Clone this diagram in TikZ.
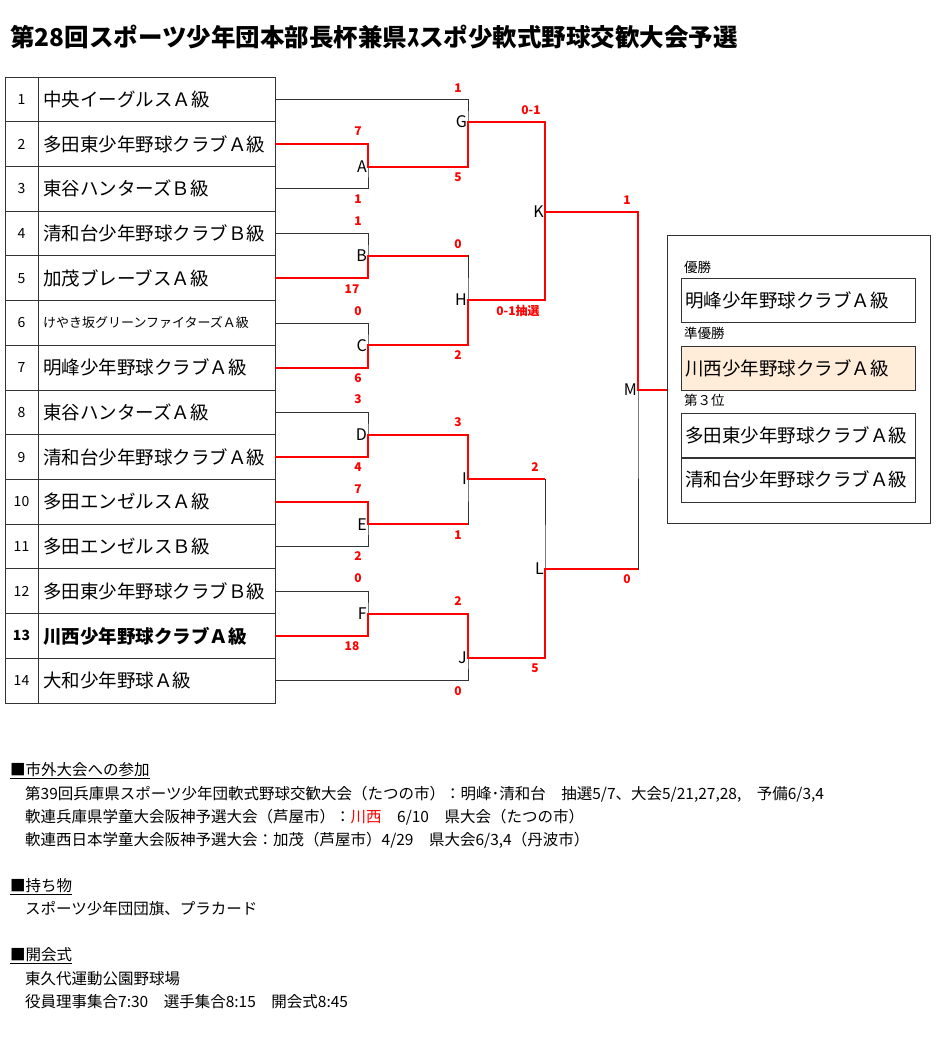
\documentclass[tikz,border=0pt]{standalone}
\usepackage{fontspec}
\setmainfont{Noto Sans CJK JP}
\usetikzlibrary{positioning, calc}
\tikzstyle{bLine}=[draw=black!80, line width=0.8pt]
\tikzstyle{rLine}=[draw=red, line width=2pt]
\tikzstyle{score}=[text=red, font=\bfseries\fontsize{12}{12}\selectfont, inner sep=1pt]
\tikzstyle{matchLbl}=[anchor=east, font=\fontsize{16}{16}\selectfont, inner sep=1pt]
\tikzstyle{teamLbl}=[anchor=west, font=\fontsize{18.5}{18.5}\selectfont, inner sep=0pt]
\tikzstyle{noteLbl}=[anchor=west, font=\fontsize{15.5}{15.5}\selectfont, inner sep=0pt]
\tikzstyle{rankBox}=[draw=black!80, minimum width=234pt, minimum height=44pt, anchor=north west, font=\fontsize{18.5}{18.5}\selectfont, text width=226pt, inner sep=4pt]

\begin{document}
\begin{tikzpicture}[x=1pt, y=-1pt]
    \useasboundingbox (0,0) rectangle (935,1039);
    \node[anchor=west, font=\bfseries\fontsize{24.5}{24.5}\selectfont, inner sep=0pt] (title) at (10,37) {第28回スポーツ少年団本部長杯兼県ｽスポ少軟式野球交歓大会予選};

    % Team table
    \draw[bLine] (5,77) rectangle (275,703);
    \draw[bLine] (38,77) -- (38,703);
    \foreach \t [count=\i] in {中央イーグルスＡ級, 多田東少年野球クラブＡ級, 東谷ハンターズＢ級,
        清和台少年野球クラブＢ級, 加茂ブレーブスＡ級, {}, 明峰少年野球クラブＡ級,
        東谷ハンターズＡ級, 清和台少年野球クラブＡ級, 多田エンゼルスＡ級, 多田エンゼルスＢ級,
        多田東少年野球クラブＢ級, {}, 大和少年野球Ａ級} {
        \pgfmathsetmacro\yc{77+44.71*(\i-0.5)}
        \ifnum\i<14 \draw[bLine] (5,{77+44.71*\i}) -- (275,{77+44.71*\i}); \fi
        \node[font=\fontsize{14}{14}\selectfont] (n\i) at (21.5,\yc) {\i};
        \node[teamLbl] (t\i) at (43,\yc) {\t};
        \coordinate (r\i) at (275,\yc);
    }
    \node[teamLbl, font=\fontsize{13}{13}\selectfont] (t6x) at (43,{77+44.71*5.5}) {けやき坂グリーンファイターズＡ級};
    \node[teamLbl, font=\bfseries\fontsize{18.5}{18.5}\selectfont] (t13x) at (43,{77+44.71*12.5}) {川西少年野球クラブＡ級};
    \node[font=\bfseries\fontsize{14}{14}\selectfont, fill=white, inner sep=1pt] (n13x) at (21.5,{77+44.71*12.5}) {13};

    % Match points
    \coordinate (A) at (368,166.5);
    \coordinate (B) at (368,255.8);
    \coordinate (C) at (368,345.3);
    \coordinate (D) at (368,434.7);
    \coordinate (E) at (368,524.2);
    \coordinate (F) at (368,613.6);
    \coordinate (G) at (468,122);
    \coordinate (H) at (468,300);
    \coordinate (I) at (468,479);
    \coordinate (J) at (468,658);
    \coordinate (K) at (545,211.5);
    \coordinate (L) at (545,569);
    \coordinate (M) at (638,390);
    \coordinate (win) at (667,390);

    % Black brackets
    \draw[bLine] (r2) -| (A) |- (r3);
    \draw[bLine] (r4) -| (B) |- (r5);
    \draw[bLine] (r6) -| (C) |- (r7);
    \draw[bLine] (r8) -| (D) |- (r9);
    \draw[bLine] (r10) -| (E) |- (r11);
    \draw[bLine] (r12) -| (F) |- (r13);
    \draw[bLine] (r1) -| (G) |- (A);
    \draw[bLine] (B) -| (H) |- (C);
    \draw[bLine] (D) -| (I) |- (E);
    \draw[bLine] (F) -| (J) |- (r14);
    \draw[bLine] (G) -| (K) |- (H);
    \draw[bLine] (I) -| (L) |- (J);
    \draw[bLine] (K) -| (M) |- (L);

    % Winning paths
    \draw[rLine] (r2) -| (A) -- (A-|G) -- (G) -- (G-|K) -- (K) -- (K-|M) -- (M) -- (win);
    \draw[rLine] (r5) -| (B) -- (B-|H);
    \draw[rLine] (r7) -| (C) -- (C-|H) -- (H) -- (H-|K) -- (K);
    \draw[rLine] (r9) -| (D) -- (D-|I) -- (I) -- (I-|L);
    \draw[rLine] (r10) -| (E) -- (E-|I);
    \draw[rLine] (r13) -| (F) -- (F-|J) -- (J) -- (J-|L) -- (L) -- (L-|M);

    % Match letters
    \foreach \m in {A,B,C,D,E,F,G,H,I,J,K,L,M}
        \node[matchLbl] (lbl\m) at (\m) {\m};

    % Scores
    \node[score] (s1) at (458,88) {1};
    \node[score] (s2) at (358,131) {7};
    \node[score] (s3) at (358,199) {1};
    \node[score] (s4) at (358,221) {1};
    \node[score] (s5) at (352,289) {17};
    \node[score] (s6) at (358,311) {0};
    \node[score] (s7) at (358,378) {6};
    \node[score] (s8) at (358,399) {3};
    \node[score] (s9) at (358,467) {4};
    \node[score] (s10) at (358,489) {7};
    \node[score] (s11) at (358,556) {2};
    \node[score] (s12) at (358,578) {0};
    \node[score] (s13) at (352,646) {18};
    \node[score] (sG) at (458,177) {5};
    \node[score] (sH1) at (458,244) {0};
    \node[score] (sH2) at (458,355) {2};
    \node[score] (sI1) at (458,422) {3};
    \node[score] (sI2) at (458,535) {1};
    \node[score] (sJ1) at (458,601) {2};
    \node[score] (sJ2) at (458,691) {0};
    \node[score] (sK1) at (531,110) {0-1};
    \node[score] (sK2) at (518,311) {0-1抽選};
    \node[score] (sL1) at (535,467) {2};
    \node[score] (sL2) at (535,668) {5};
    \node[score] (sM1) at (627,200) {1};
    \node[score] (sM2) at (627,579) {0};

    % Result box
    \draw[bLine] (667,235) rectangle (930,523);
    \node[noteLbl, font=\fontsize{13.5}{13.5}\selectfont] (first) at (684,267) {優勝};
    \node[rankBox] (w1) at (681,278) {明峰少年野球クラブＡ級};
    \node[noteLbl, font=\fontsize{13.5}{13.5}\selectfont] (second) at (684,333) {準優勝};
    \node[rankBox, fill=orange!15] (w2) at (681,346) {川西少年野球クラブＡ級};
    \node[noteLbl, font=\fontsize{13.5}{13.5}\selectfont] (third) at (684,400) {第３位};
    \node[rankBox] (w3) at (681,413) {多田東少年野球クラブＡ級};
    \node[rankBox] (w4) at (681,457.5) {清和台少年野球クラブＡ級};

    % Notes
    \node[noteLbl] (h1) at (10,771) {\underline{■市外大会への参加}};
    \node[noteLbl] (l1) at (25,794) {第39回兵庫県スポーツ少年団軟式野球交歓大会（たつの市）：明峰･清和台　抽選5/7、大会5/21,27,28,　予備6/3,4};
    \node[noteLbl] (l2) at (25,817) {軟連兵庫県学童大会阪神予選大会（芦屋市）：\textcolor{red}{川西}　6/10　県大会（たつの市）};
    \node[noteLbl] (l3) at (25,840) {軟連西日本学童大会阪神予選大会：加茂（芦屋市）4/29　県大会6/3,4（丹波市）};
    \node[noteLbl] (h2) at (10,887) {\underline{■持ち物}};
    \node[noteLbl] (l4) at (25,909) {スポーツ少年団団旗、プラカード};
    \node[noteLbl] (h3) at (10,956) {\underline{■開会式}};
    \node[noteLbl] (l5) at (25,979) {東久代運動公園野球場};
    \node[noteLbl] (l6) at (25,1002) {役員理事集合7:30　選手集合8:15　開会式8:45};
\end{tikzpicture}
\end{document}
